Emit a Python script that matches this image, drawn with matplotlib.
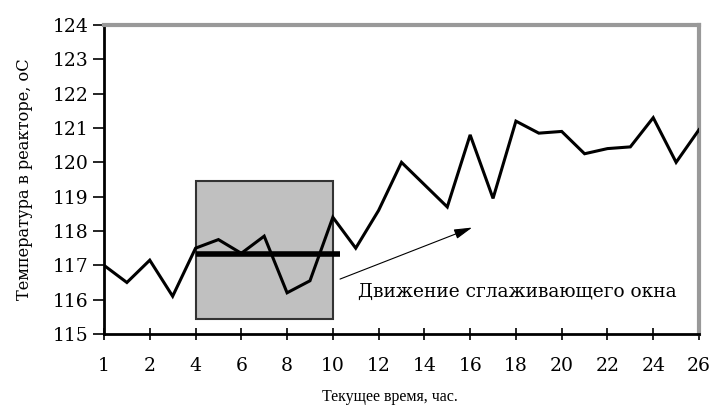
import matplotlib
matplotlib.use("Agg")
import matplotlib.pyplot as plt
from matplotlib.patches import Rectangle

# Reactor temperature readings, one every half tick step
temperature = [117.0, 116.5, 117.15, 116.1, 117.5, 117.75, 117.35, 117.85, 116.2,
               116.55, 118.4, 117.5, 118.6, 120.0, 119.35, 118.7, 120.8, 118.95,
               121.2, 120.85, 120.9, 120.25, 120.4, 120.45, 121.3, 120.0, 120.95]
tick_labels = ["1", "2", "4", "6", "8", "10", "12", "14", "16", "18", "20", "22", "24", "26"]
y_ticks = [115, 116, 117, 118, 119, 120, 121, 122, 123, 124]

# Smoothing window: spans points 4..10, level is the window average
window_start, window_end = 4, 10
window_low, window_high = 115.45, 119.45
window_level = 117.33

serif = ["DejaVu Serif"]
times = ["Liberation Serif", "DejaVu Serif"]
plt.rcParams["font.family"] = serif

fig = plt.figure(figsize=(7.1, 4.09), dpi=100)
ax = fig.add_axes([104 / 710, 1 - 334 / 409, (699 - 104) / 710, (334 - 25) / 409])

x = list(range(len(temperature)))

ax.add_patch(Rectangle((window_start, window_low), window_end - window_start,
                       window_high - window_low, facecolor="#c0c0c0",
                       edgecolor="#333333", linewidth=1.5, zorder=1))
ax.plot(x, temperature, color="black", linewidth=2.2, zorder=3, solid_joinstyle="miter")
ax.plot([window_start, window_end + 0.3], [window_level, window_level],
        color="black", linewidth=4, zorder=4, solid_capstyle="butt")

ax.annotate("", xy=(16.2, 118.13), xytext=(10.2, 116.57),
            arrowprops=dict(arrowstyle="-|>,head_length=1.1,head_width=0.3",
                            color="black", linewidth=0.8),
            zorder=5)
ax.text(11.1, 116.22, "Движение сглаживающего окна", fontsize=13.4,
        family=serif, ha="left", va="center", zorder=5)

ax.set_xlim(0, len(temperature) - 1)
ax.set_ylim(115, 124)
ax.set_xticks(range(0, len(temperature), 2))
ax.set_xticklabels(tick_labels)
ax.set_yticks(y_ticks)

ax.tick_params(axis="y", direction="out", length=8, width=1.2, labelsize=13.5, pad=3)
ax.tick_params(axis="x", direction="inout", length=9, width=1.2, labelsize=13.5, pad=12)

for side in ("left", "bottom"):
    ax.spines[side].set_color("black")
    ax.spines[side].set_linewidth(2)
for side in ("top", "right"):
    ax.spines[side].set_color("#999999")
    ax.spines[side].set_linewidth(3)

ax.set_ylabel("Температура в реакторе, оС", fontsize=11.7, labelpad=14)
ax.set_xlabel("Текущее время, час.", fontsize=11.5, family=times, va="center")
ax.xaxis.set_label_coords(0.48, -0.205)

fig.savefig("out.png", dpi=100, facecolor="white")
